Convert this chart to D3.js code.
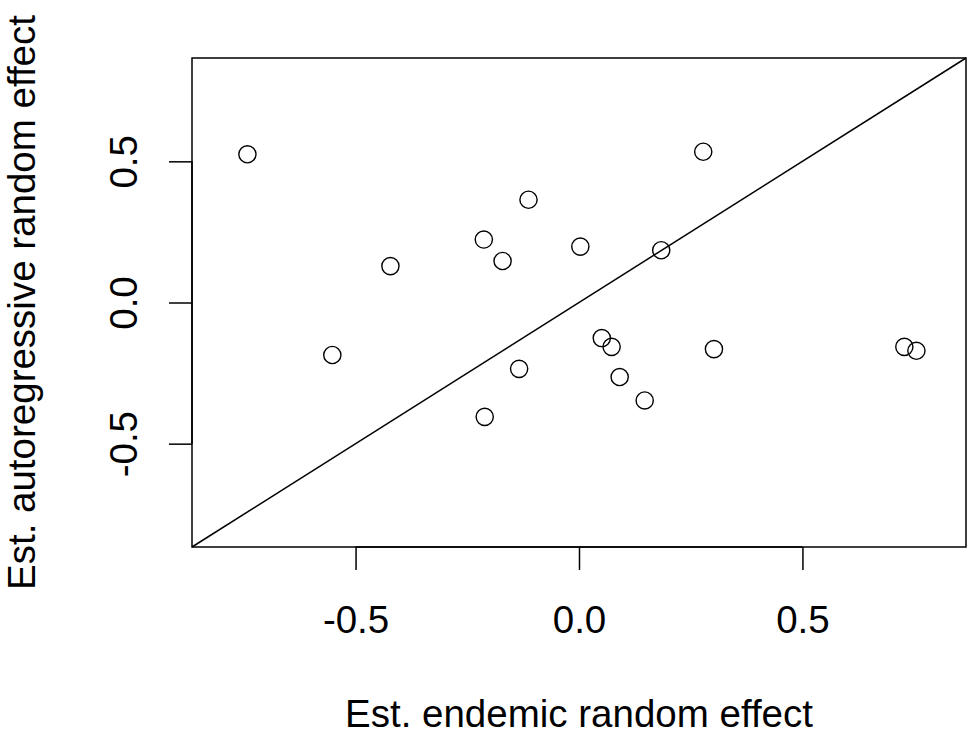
<!DOCTYPE html>
<html>
<head>
<meta charset="utf-8">
<script src="https://cdn.jsdelivr.net/npm/d3@7"></script>
<style>
  body { margin: 0; background: #fff; }
  text { font-family: "Liberation Sans", Arial, Helvetica, sans-serif; fill: #000; }
</style>
</head>
<body>
<div id="plot"></div>
<script>
// estimated random effects
var endemic = [-0.742, -0.422, -0.113, -0.213, -0.171, 0.003, 0.278, 0.184, -0.552,
               -0.134, -0.211, 0.051, 0.073, 0.091, 0.147, 0.302, 0.728, 0.755];
var autoreg = [0.525, 0.129, 0.364, 0.223, 0.147, 0.198, 0.534, 0.185, -0.186,
               -0.235, -0.405, -0.126, -0.157, -0.264, -0.347, -0.165, -0.157, -0.171];
var tickVals = [-0.5, 0, 0.5];
var tickLabels = ["-0.5", "0.0", "0.5"];
var lim = [-0.866, 0.866];

var svgWidth = 969;
var svgHeight = 742;
var margin = { top: 58, bottom: 195, right: 3, left: 192 };
var width = svgWidth - margin.left - margin.right;
var height = svgHeight - margin.top - margin.bottom;

var svg = d3.select("#plot")
    .append("svg")
    .attr("width", svgWidth)
    .attr("height", svgHeight);

var g = svg.append("g")
    .attr("transform", `translate(${margin.left},${margin.top})`);

var xScale = d3.scaleLinear().domain(lim).range([0, width]);
var yScale = d3.scaleLinear().domain(lim).range([height, 0]);

var data = endemic.map((d, i) => ({ x: d, y: autoreg[i] }));

// box
g.append("rect")
    .attr("width", width)
    .attr("height", height)
    .attr("fill", "none")
    .attr("stroke", "#000")
    .attr("stroke-width", 1.5);

// identity line
g.append("line")
    .attr("x1", xScale(lim[0])).attr("y1", yScale(lim[0]))
    .attr("x2", xScale(lim[1])).attr("y2", yScale(lim[1]))
    .attr("stroke", "#000")
    .attr("stroke-width", 1.5);

var fmt = (d, i) => tickLabels[i];

var xAxis = d3.axisBottom(xScale).tickValues(tickVals).tickFormat(fmt).tickSize(23);
var yAxis = d3.axisLeft(yScale).tickValues(tickVals).tickFormat(fmt).tickSize(23);

var xg = g.append("g")
    .attr("transform", `translate(0,${height})`)
    .call(xAxis);
var yg = g.append("g").call(yAxis);

[xg, yg].forEach(function(ax) {
    ax.select(".domain").attr("stroke", "#000").attr("stroke-width", 1.5);
    ax.selectAll(".tick line").attr("stroke", "#000").attr("stroke-width", 1.5);
    ax.selectAll(".tick text")
        .style("font-family", '"Liberation Sans", Arial, sans-serif')
        .attr("font-size", 38.5)
        .attr("fill", "#000");
});
// R draws the axis line only between the outer ticks
xg.select(".domain").attr("d", `M${xScale(-0.5)},0H${xScale(0.5)}`);
yg.select(".domain").attr("d", `M0,${yScale(-0.5)}V${yScale(0.5)}`);

xg.selectAll(".tick text").attr("dy", null).attr("y", 86);
yg.selectAll(".tick text")
    .attr("x", null).attr("dy", null)
    .attr("text-anchor", "middle")
    .attr("transform", "translate(-55,0) rotate(-90)");

g.selectAll("circle")
    .data(data)
    .enter()
    .append("circle")
    .attr("cx", d => xScale(d.x))
    .attr("cy", d => yScale(d.y))
    .attr("r", 8.6)
    .attr("fill", "none")
    .attr("stroke", "#000")
    .attr("stroke-width", 1.4);

svg.append("text")
    .attr("x", margin.left + width / 2)
    .attr("y", 727)
    .attr("text-anchor", "middle")
    .attr("font-size", 38.5)
    .text("Est. endemic random effect");

svg.append("text")
    .attr("transform", `translate(35,${margin.top + height / 2}) rotate(-90)`)
    .attr("text-anchor", "middle")
    .attr("font-size", 38.5)
    .text("Est. autoregressive random effect");
</script>
</body>
</html>
